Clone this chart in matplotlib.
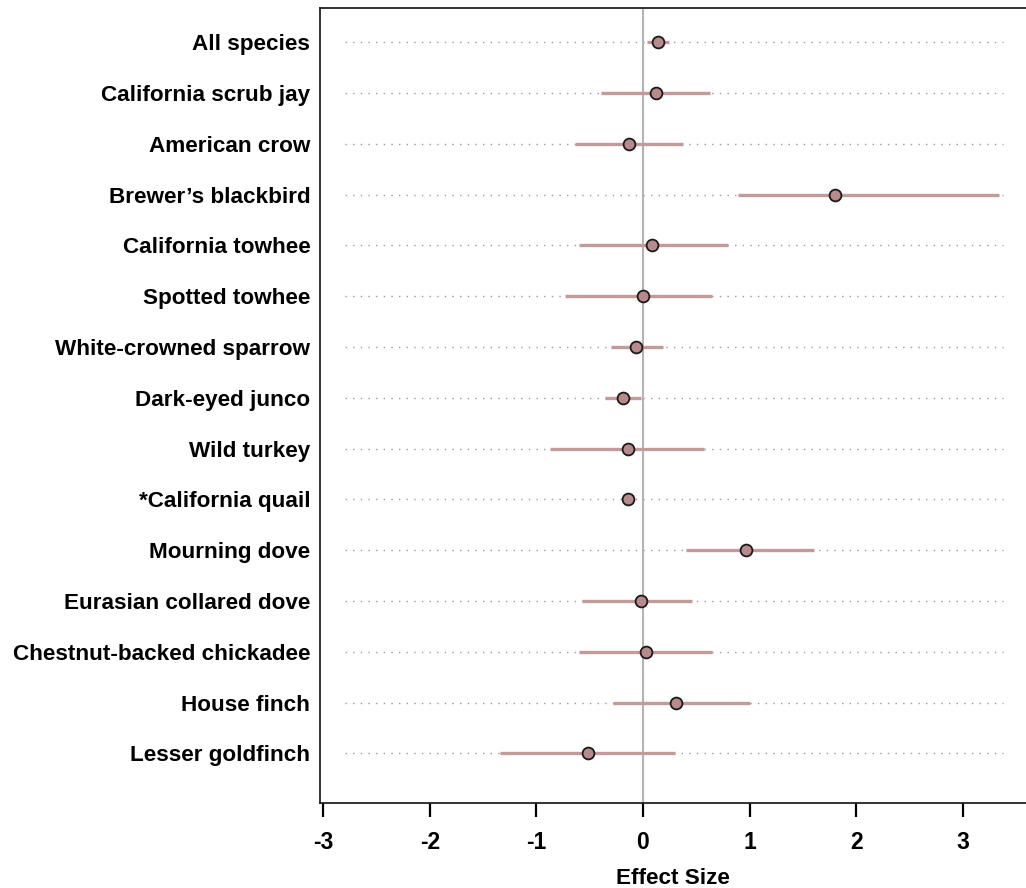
import numpy as np
import matplotlib.pyplot as plt

species = ['All species', 'California scrub jay', 'American crow', 'Brewer\u2019s blackbird',
           'California towhee', 'Spotted towhee', 'White-crowned sparrow', 'Dark-eyed junco',
           'Wild turkey', '*California quail', 'Mourning dove', 'Eurasian collared dove',
           'Chestnut-backed chickadee', 'House finch', 'Lesser goldfinch']
effect = [0.14, 0.12, -0.13, 1.80, 0.08, 0.00, -0.07, -0.19, -0.14, -0.14, 0.97, -0.02, 0.03, 0.31, -0.52]
ci_low = [0.04, -0.39, -0.64, 0.89, -0.60, -0.73, -0.30, -0.36, -0.87, -0.14, 0.40, -0.57, -0.60, -0.28, -1.34]
ci_high = [0.24, 0.625, 0.38, 3.34, 0.80, 0.65, 0.19, -0.02, 0.57, -0.14, 1.60, 0.46, 0.65, 1.00, 0.30]
xticks = [-3, -2, -1, 0, 1, 2, 3]


def main():
    plt.rcParams['font.family'] = ['Liberation Sans', 'DejaVu Sans']
    fig = plt.figure(figsize=(10.26, 8.88), dpi=100)
    ax = fig.add_axes([320 / 1026, 85 / 888, 706 / 1026, 795 / 888])

    n = len(species)
    y = np.arange(n, 0, -1)

    ax.hlines(y, -2.8, 3.38, colors='#9a9a9a', linestyles=(0, (1, 4.5)), linewidth=1.0, zorder=1)
    ax.axvline(0, color='#b4b4b4', linewidth=1.5, zorder=2)
    ax.hlines(y, ci_low, ci_high, colors='#c29a9a', linewidth=2.4, zorder=3)
    ax.plot(effect, y, 'o', markersize=8.5, markerfacecolor='#b98a8c',
            markeredgecolor='#1a1a1a', markeredgewidth=1.3, zorder=4)

    ax.set_xlim(-3.03, 3.593)
    ax.set_ylim(0.025, n + 0.675)
    ax.set_yticks(y)
    ax.set_yticklabels(species, fontsize=16.2, fontweight='bold')
    ax.set_xticks(xticks)
    ax.set_xticklabels([str(t) for t in xticks], fontsize=16.5, fontweight='bold')
    ax.tick_params(axis='y', length=0, pad=7)
    ax.tick_params(axis='x', length=10, width=1.6, direction='out', pad=10)
    ax.set_xlabel('Effect Size', fontsize=16.2, fontweight='bold', labelpad=10)

    ax.spines['right'].set_visible(False)
    for s in ['left', 'bottom', 'top']:
        ax.spines[s].set_linewidth(1.3)
        ax.spines[s].set_color('#222222')

    fig.savefig('out.png', dpi=100)


if __name__ == "__main__":
    main()
